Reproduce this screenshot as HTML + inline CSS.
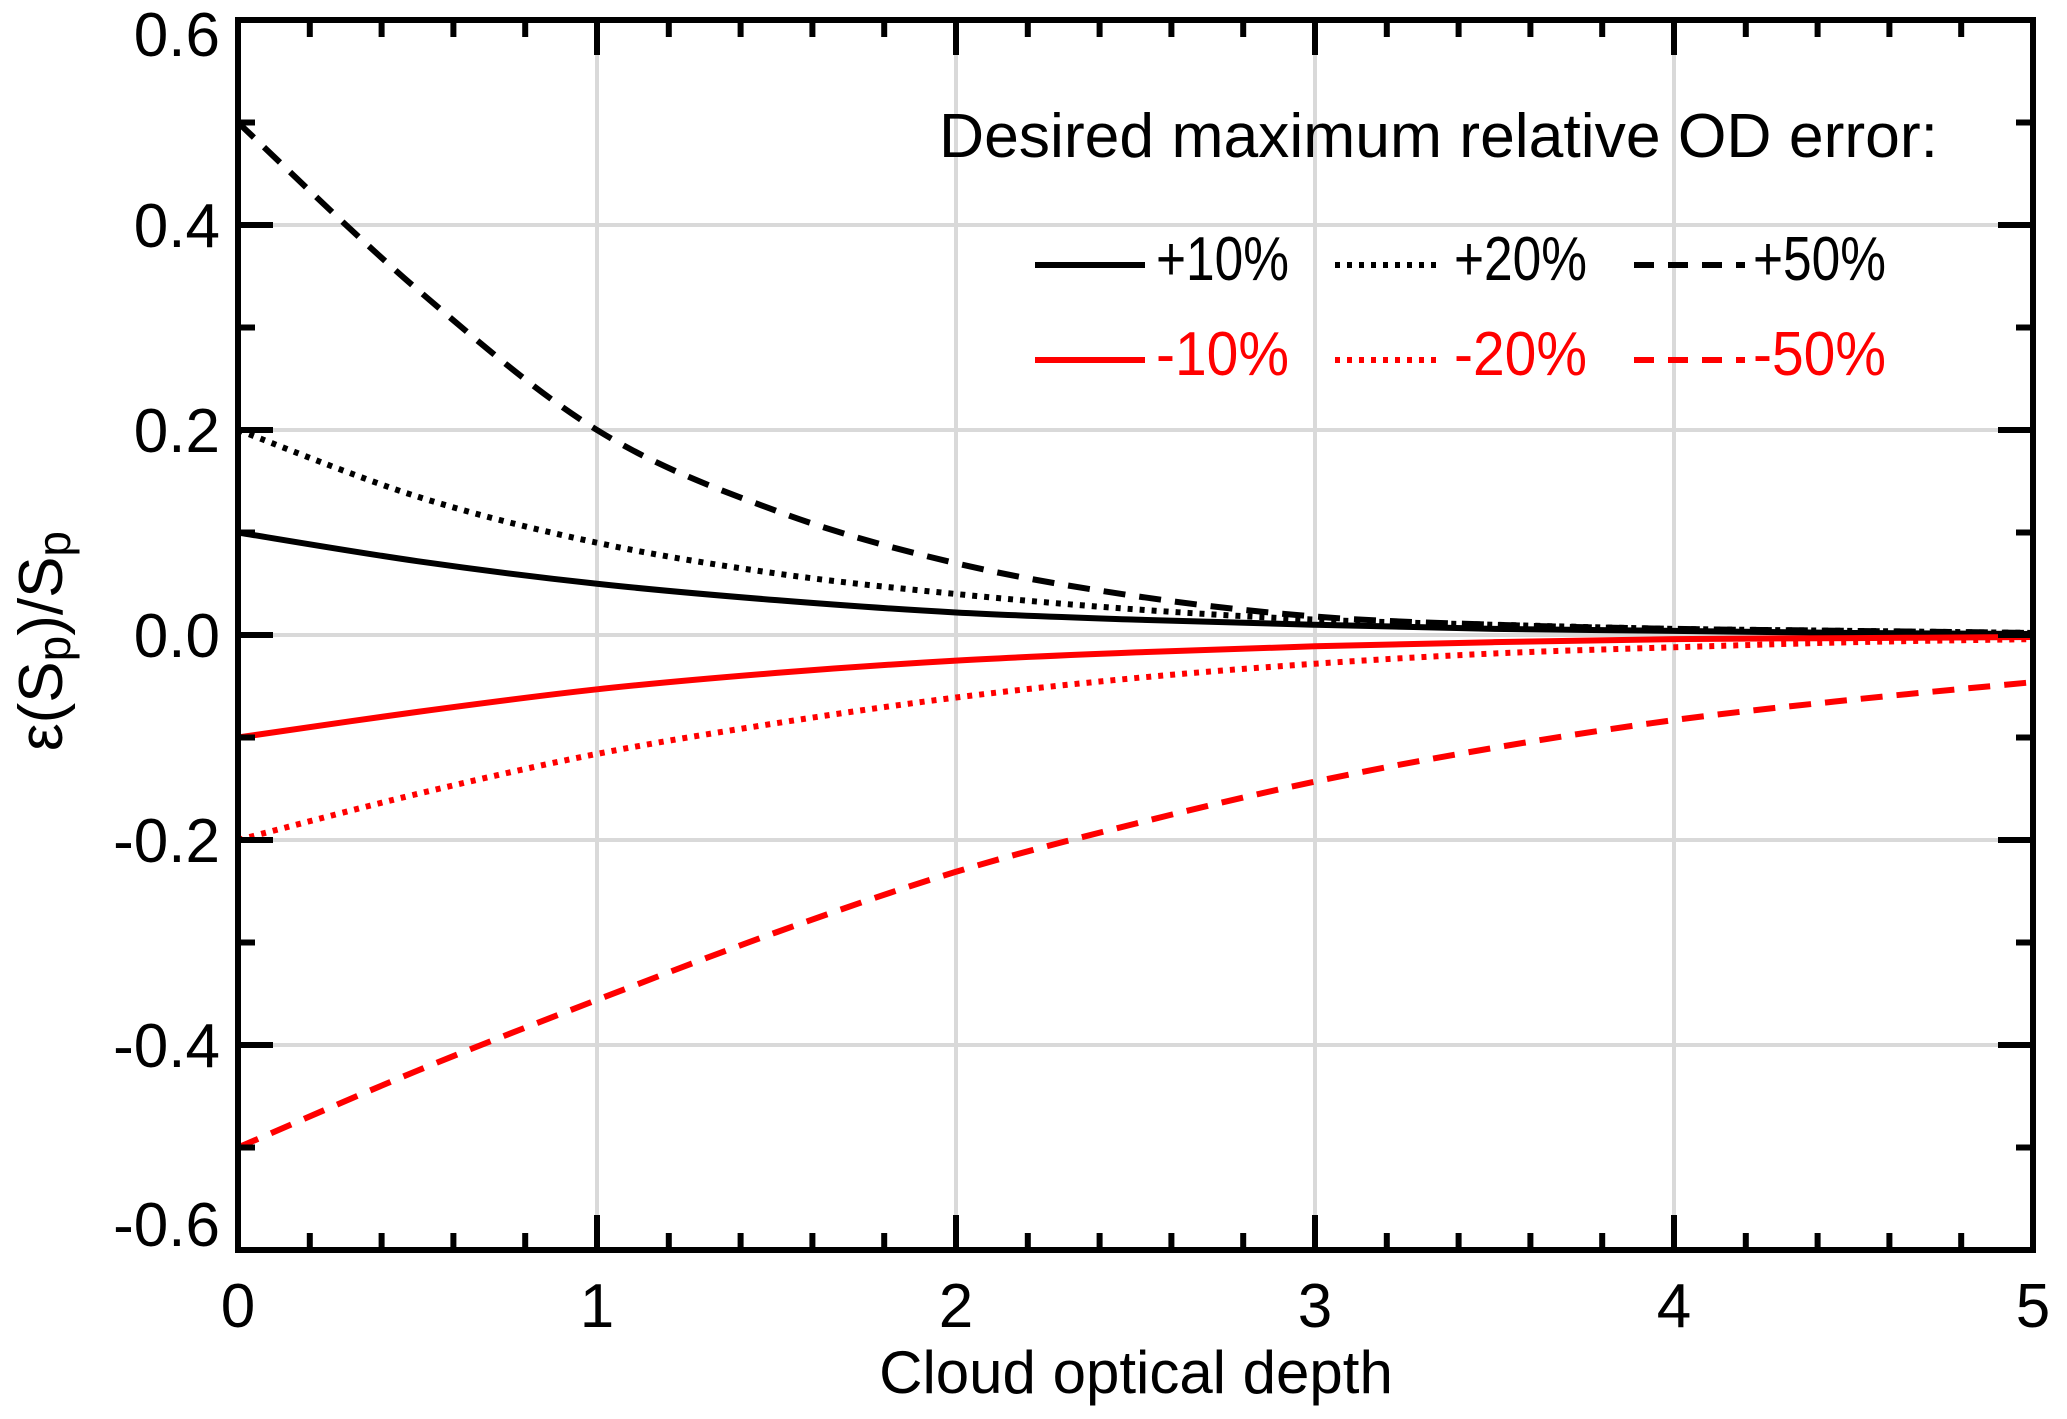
<!DOCTYPE html>
<html><head><meta charset="utf-8"><style>
html,body{margin:0;padding:0;background:#fff;}
svg{display:block;font-family:"Liberation Sans",Arial,sans-serif;}
</style></head><body>
<svg id="chart" width="2067" height="1419" viewBox="0 0 2067 1419" xmlns="http://www.w3.org/2000/svg">
<g id="grid"></g>
<g id="series"></g>
<g id="axes"></g>
<text transform="translate(62,641) rotate(-90)" text-anchor="middle" font-size="62">ε(S<tspan font-size="46" dy="8">p</tspan><tspan dy="-8">)/S</tspan><tspan font-size="46" dy="8">p</tspan></text>
<text x="1136" y="1393" text-anchor="middle" font-size="60">Cloud optical depth</text>
<g id="legend">
<text x="939" y="157" font-size="62" textLength="999" lengthAdjust="spacingAndGlyphs">Desired maximum relative OD error:</text>
</g>
</svg>
<script>
const xValues = [0,0.5,1,1.5,2,2.5,3,3.5,4,4.5,5];
const plus10 = [0.1,0.072,0.05,0.034,0.022,0.015,0.01,0.006,0.004,0.002,0.001];
const plus20 = [0.2,0.135,0.09,0.06,0.04,0.025,0.015,0.01,0.006,0.004,0.002];
const plus50 = [0.5,0.337,0.2,0.121,0.07,0.038,0.018,0.01,0.006,0.004,0.002];
const minus10 = [-0.1,-0.075,-0.053,-0.037,-0.025,-0.017,-0.011,-0.007,-0.004,-0.003,-0.002];
const minus20 = [-0.2,-0.155,-0.116,-0.086,-0.061,-0.042,-0.028,-0.018,-0.012,-0.007,-0.004];
const minus50 = [-0.5,-0.425,-0.356,-0.29,-0.231,-0.184,-0.143,-0.11,-0.083,-0.063,-0.046];
const xTicks = [0,1,2,3,4,5];
const yTicks = [-0.6,-0.4,-0.2,0.0,0.2,0.4,0.6];
const yTickLabels = ["-0.6","-0.4","-0.2","0.0","0.2","0.4","0.6"];

const NS="http://www.w3.org/2000/svg";
const L=238,R=2033,T=20,B=1250;
const X=v=>L+(v-0)/(5-0)*(R-L);
const Y=v=>B-(v+0.6)/1.2*(B-T);
function mk(tag,attrs,parent){const e=document.createElementNS(NS,tag);for(const k in attrs)e.setAttribute(k,attrs[k]);parent.appendChild(e);return e;}
const grid=document.getElementById('grid'),axes=document.getElementById('axes'),ser=document.getElementById('series'),leg=document.getElementById('legend');

xTicks.forEach(v=>{if(v>0&&v<5){const g=mk('line',{x1:X(v),x2:X(v),y1:T,y2:B,stroke:'#d9d9d9','stroke-width':4},grid);

}});
yTicks.forEach(v=>{if(v>-0.6&&v<0.6){const g=mk('line',{x1:L,x2:R,y1:Y(v),y2:Y(v),stroke:'#d9d9d9','stroke-width':4},grid);

}});

function smooth(xs,ys){let p=xs.map((x,i)=>[X(x),Y(ys[i])]);let d=`M${p[0][0]},${p[0][1]}`;
for(let i=0;i<p.length-1;i++){const p0=p[i-1]||p[i],p1=p[i],p2=p[i+1],p3=p[i+2]||p2;
d+=` C${p1[0]+(p2[0]-p0[0])/6},${p1[1]+(p2[1]-p0[1])/6} ${p2[0]-(p3[0]-p1[0])/6},${p2[1]-(p3[1]-p1[1])/6} ${p2[0]},${p2[1]}`;}return d;}
const defs=[
 ['series-plus-10',plus10,'#000',''],
 ['series-plus-20',plus20,'#000','5 7'],
 ['series-plus-50',plus50,'#000','22 14'],
 ['series-minus-10',minus10,'#f00',''],
 ['series-minus-20',minus20,'#f00','5 7'],
 ['series-minus-50',minus50,'#f00','22 14']];
defs.forEach(([n,ys,c,da])=>{const a={d:smooth(xValues,ys),fill:'none',stroke:c,'stroke-width':6};if(da)a['stroke-dasharray']=da;const p=mk('path',a,ser);

});

const fr=mk('rect',{x:L,y:T,width:R-L,height:B-T,fill:'none',stroke:'#000','stroke-width':6},axes);


for(let i=0;i<=25;i++){const v=i*0.2;const len=(i%5===0)?35:17;
 mk('line',{x1:X(v),x2:X(v),y1:B,y2:B-len,stroke:'#000','stroke-width':6},axes);
 mk('line',{x1:X(v),x2:X(v),y1:T,y2:T+len,stroke:'#000','stroke-width':6},axes);}
for(let i=0;i<=12;i++){const v=-0.6+i*0.1;const len=(i%2===0)?35:17;
 mk('line',{x1:L,x2:L+len,y1:Y(v),y2:Y(v),stroke:'#000','stroke-width':6},axes);
 mk('line',{x1:R,x2:R-len,y1:Y(v),y2:Y(v),stroke:'#000','stroke-width':6},axes);}
xTicks.forEach(v=>{const t=mk('text',{x:X(v),y:1327,'text-anchor':'middle','font-size':62},axes);t.textContent=String(v);

});
yTicks.forEach((v,i)=>{const t=mk('text',{x:220,y:Math.min(Math.max(Y(v)+22,56),1246),'text-anchor':'end','font-size':62},axes);t.textContent=yTickLabels[i];

});

const items=[
 ['+10%','#000','',1035,1145,1156,265,280],
 ['+20%','#000','5 7',1335,1442,1454,265,280],
 ['+50%','#000','20 14',1634,1745,1753,265,280],
 ['-10%','#f00','',1035,1145,1156,360,375],
 ['-20%','#f00','5 7',1335,1442,1454,360,375],
 ['-50%','#f00','20 14',1634,1745,1753,360,375]];
items.forEach(([lab,c,da,x1,x2,tx,ly,ty])=>{const g=mk('g',{},leg);


const a={x1:x1,x2:x2,y1:ly,y2:ly,stroke:c,'stroke-width':6};if(da)a['stroke-dasharray']=da;mk('line',a,g);
const t=mk('text',{x:tx,y:ty,fill:c,'font-size':62,textLength:133,lengthAdjust:'spacingAndGlyphs'},g);t.textContent=lab;});
</script>
</body></html>
